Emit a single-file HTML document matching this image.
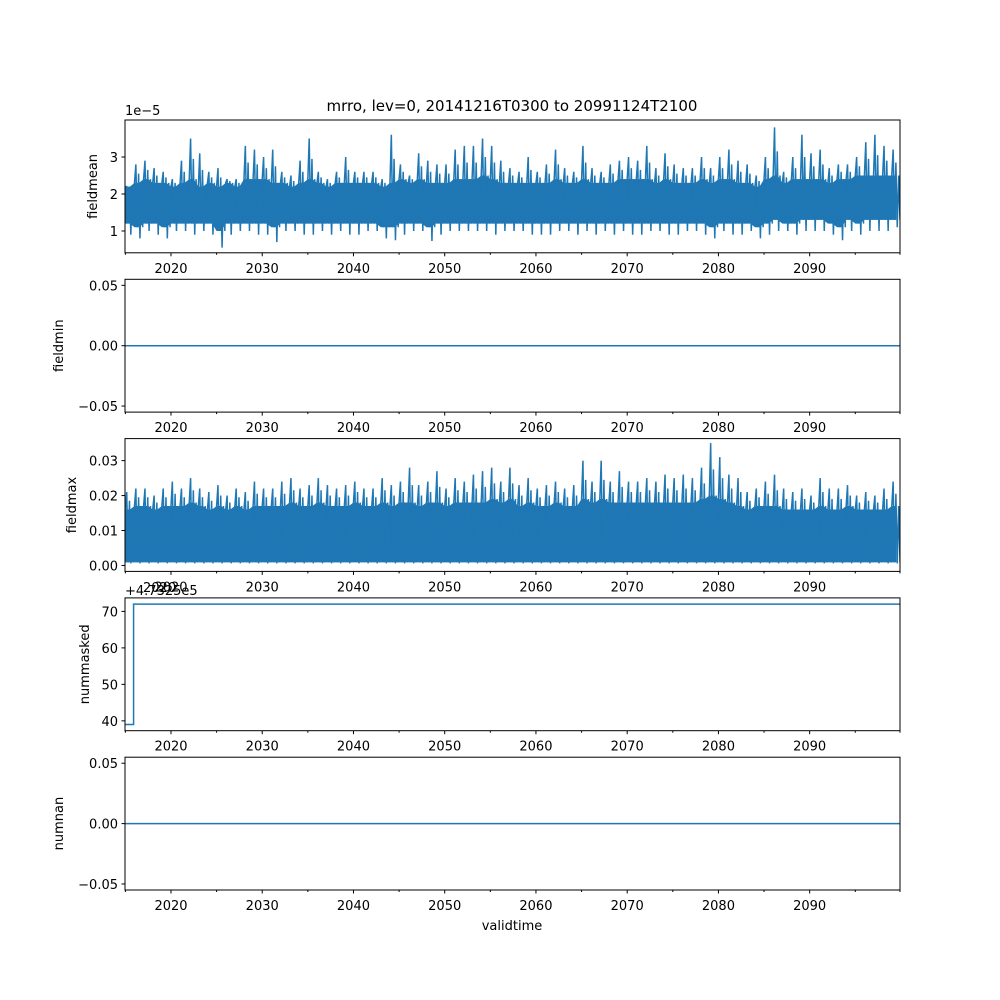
<!DOCTYPE html>
<html><head><meta charset="utf-8">
<style>
body{margin:0;background:#fff;}
svg{display:block;font-family:"DejaVu Sans","Liberation Sans",sans-serif;}
</style></head>
<body>
<svg id="fig" width="1000" height="1000" viewBox="0 0 1000 1000"></svg>
<script>
const years=[];for(let y=2015;y<=2099;y++)years.push(y);
const xTicks=[2020,2030,2040,2050,2060,2070,2080,2090];
const meanHi=[2.2,2.8,2.9,2.7,2.6,2.4,2.9,3.5,3.1,2.6,2.7,2.4,2.4,3.3,3.2,3.0,3.2,2.6,2.5,2.9,3.5,2.6,2.4,2.6,3.0,2.6,2.6,2.6,2.4,3.6,2.8,2.5,3.1,2.9,2.8,2.8,3.2,3.3,3.3,3.5,3.3,2.9,2.7,2.6,3.0,2.6,2.8,3.2,2.7,2.6,3.3,2.7,2.6,2.8,2.9,3.0,2.9,3.3,2.7,3.1,2.8,2.7,2.7,3.0,2.7,3.0,3.2,2.9,2.8,2.5,3.0,3.8,2.6,3.0,3.6,3.1,3.2,2.7,2.8,2.8,3.0,3.4,3.6,3.3,3.2];
const meanLo=[0.9,0.8,1.0,0.9,0.8,1.0,1.0,0.9,1.0,0.9,0.55,0.9,1.0,1.0,0.9,0.9,0.7,1.0,1.0,0.9,0.9,1.0,0.9,1.0,0.9,0.9,1.0,1.0,0.8,0.75,0.9,1.0,1.0,0.73,0.9,1.0,1.0,1.0,1.0,1.0,0.9,1.0,1.0,1.0,0.9,0.9,0.9,1.0,1.0,0.9,1.0,0.9,1.0,0.9,1.0,0.9,0.9,1.0,1.0,0.9,0.9,1.0,1.0,0.9,0.8,1.0,0.9,0.9,1.0,0.8,0.9,1.0,1.0,0.9,1.0,1.0,1.0,0.9,0.75,1.0,0.9,1.0,1.0,1.0,1.1];
const meanCoreHi=[2.2,2.3,2.4,2.3,2.3,2.2,2.3,2.4,2.2,2.3,2.2,2.3,2.2,2.4,2.4,2.4,2.3,2.3,2.2,2.3,2.4,2.3,2.2,2.3,2.3,2.3,2.3,2.3,2.2,2.3,2.4,2.3,2.4,2.3,2.3,2.3,2.4,2.4,2.4,2.5,2.4,2.3,2.3,2.3,2.3,2.3,2.3,2.4,2.3,2.3,2.4,2.3,2.3,2.3,2.4,2.4,2.4,2.4,2.3,2.4,2.3,2.3,2.3,2.4,2.3,2.4,2.4,2.3,2.3,2.2,2.4,2.5,2.3,2.4,2.4,2.4,2.4,2.3,2.4,2.4,2.5,2.5,2.5,2.5,2.5];
const meanCoreLo=[1.2,1.1,1.2,1.2,1.1,1.2,1.2,1.2,1.2,1.2,1.0,1.2,1.2,1.2,1.2,1.2,1.1,1.2,1.2,1.2,1.2,1.2,1.2,1.2,1.2,1.2,1.2,1.2,1.1,1.1,1.2,1.2,1.2,1.1,1.2,1.2,1.2,1.2,1.2,1.2,1.2,1.2,1.2,1.2,1.2,1.2,1.2,1.2,1.2,1.2,1.2,1.2,1.2,1.2,1.2,1.2,1.2,1.2,1.2,1.2,1.2,1.2,1.2,1.2,1.1,1.2,1.2,1.2,1.2,1.1,1.2,1.3,1.2,1.2,1.3,1.3,1.3,1.2,1.1,1.3,1.2,1.3,1.3,1.3,1.3];
const maxHi=[0.021,0.022,0.022,0.020,0.022,0.024,0.022,0.025,0.022,0.021,0.023,0.020,0.022,0.021,0.024,0.022,0.022,0.024,0.025,0.022,0.023,0.025,0.023,0.022,0.023,0.024,0.022,0.022,0.025,0.023,0.024,0.028,0.023,0.024,0.027,0.022,0.025,0.024,0.026,0.027,0.028,0.024,0.028,0.023,0.025,0.022,0.023,0.024,0.022,0.023,0.030,0.024,0.030,0.024,0.027,0.024,0.024,0.025,0.024,0.026,0.025,0.026,0.025,0.028,0.035,0.031,0.026,0.025,0.021,0.022,0.024,0.026,0.022,0.021,0.022,0.020,0.025,0.022,0.022,0.023,0.020,0.021,0.020,0.022,0.024];
const maxCoreHi=[0.016,0.017,0.017,0.016,0.017,0.017,0.017,0.018,0.017,0.016,0.017,0.016,0.017,0.016,0.017,0.017,0.017,0.017,0.018,0.017,0.017,0.018,0.017,0.017,0.017,0.018,0.017,0.017,0.018,0.017,0.018,0.018,0.017,0.018,0.018,0.017,0.018,0.018,0.018,0.018,0.019,0.018,0.019,0.017,0.018,0.017,0.017,0.018,0.017,0.017,0.019,0.018,0.019,0.018,0.018,0.018,0.018,0.018,0.018,0.018,0.018,0.018,0.018,0.019,0.020,0.019,0.018,0.017,0.016,0.017,0.017,0.017,0.016,0.016,0.016,0.016,0.017,0.016,0.016,0.017,0.016,0.016,0.016,0.016,0.017];
const maxLo=0.0006;
const maskedYears=[2014.96,2015.9,2015.9,2099.9];
const maskedVals=[39,39,72,72];
const zeroYears=[2014.96,2099.9];
const zeroVals=[0,0];

const NS="http://www.w3.org/2000/svg";
const svg=document.getElementById('fig');
const L=125,R=900,X0=2014.96,X1=2099.9;
function xs(y){return L+(y-X0)/(X1-X0)*(R-L);}
function mk(tag,attrs,parent){const e=document.createElementNS(NS,tag);for(const k in attrs)e.setAttribute(k,attrs[k]);(parent||svg).appendChild(e);return e;}
const BLUE="#1f77b4";

const title=mk('text',{x:512,y:111,'text-anchor':'middle','font-size':15});
title.textContent="mrro, lev=0, 20141216T0300 to 20991124T2100";



const panels=[
 {name:'fieldmean',top:120,ymin:0.41,ymax:4.0,ticks:[1,2,3],labels:['1','2','3'],lx:97},
 {name:'fieldmin',top:279.3,ymin:-0.055,ymax:0.055,ticks:[-0.05,0,0.05],labels:['−0.05','0.00','0.05'],lx:63},
 {name:'fieldmax',top:438.6,ymin:-0.0017,ymax:0.0363,ticks:[0,0.01,0.02,0.03],labels:['0.00','0.01','0.02','0.03'],lx:76},
 {name:'nummasked',top:597.9,ymin:37.3,ymax:73.7,ticks:[40,50,60,70],labels:['40','50','60','70'],lx:89},
 {name:'numnan',top:757.2,ymin:-0.055,ymax:0.055,ticks:[-0.05,0,0.05],labels:['−0.05','0.00','0.05'],lx:63}
];
const H=132.8;
panels.forEach((p,i)=>{
 const g=mk('g',{});
 
 
 const bot=p.top+H;
 const ys=v=>bot-(v-p.ymin)/(p.ymax-p.ymin)*H;
 const clipId='c'+i;
 const cp=mk('clipPath',{id:clipId},g);mk('rect',{x:L,y:p.top,width:R-L,height:H},cp);
 const data=mk('g',{'clip-path':'url(#'+clipId+')'},g);
 
 
 if(i===0||i===2){
  const hi=i===0?meanHi:maxHi, ch=i===0?meanCoreHi:maxCoreHi;
  const lo=i===0?meanLo:years.map(()=>maxLo);
  const cl=i===0?meanCoreLo:years.map(()=>maxLo+0.0003);
  let top=[],bt=[];
  years.forEach((y,k)=>{top.push(xs(y)+','+ys(ch[k]));top.push(xs(y+0.5)+','+ys(ch[k]));});
  years.slice().reverse().forEach((y,kk)=>{const k=years.length-1-kk;bt.push(xs(y+0.5)+','+ys(cl[k]));bt.push(xs(y)+','+ys(cl[k]));});
  const band=mk('polygon',{points:top.concat(bt).join(' '),fill:BLUE},data);
  
  
  let pts=[];
  years.forEach((y,k)=>{
   pts.push(xs(y)+','+ys(ch[k]));pts.push(xs(y+0.15)+','+ys(hi[k]));pts.push(xs(y+0.3)+','+ys(cl[k]));
   pts.push(xs(y+0.45)+','+ys((hi[k]+ch[k])/2));pts.push(xs(y+0.6)+','+ys(lo[k]));pts.push(xs(y+0.75)+','+ys(ch[k]));pts.push(xs(y+0.9)+','+ys(cl[k]));
  });
  const ln=mk('polyline',{points:pts.join(' '),fill:'none',stroke:BLUE,'stroke-width':1.5},data);
  
  
 } else {
  const xv=i===3?maskedYears:zeroYears, yv=i===3?maskedVals:zeroVals;
  const ln=mk('polyline',{points:xv.map((x,k)=>xs(x)+','+ys(yv[k])).join(' '),fill:'none',stroke:BLUE,'stroke-width':1.5},data);
  
  
 }
 mk('rect',{x:L,y:p.top,width:R-L,height:H,fill:'none',stroke:'#000','stroke-width':1},g);
 p.ticks.forEach((t,k)=>{
  const y=ys(t);
  mk('line',{x1:L-3.5,x2:L,y1:y,y2:y,stroke:'#000'},g);
  const tx=mk('text',{x:L-7,y:y+5,'text-anchor':'end','font-size':13},g);
  tx.textContent=p.labels[k];
  
  
 });
 for(let yr=2015;yr<=2095;yr+=5){
  const major=yr%10===0;
  mk('line',{x1:xs(yr),x2:xs(yr),y1:bot,y2:bot+(major?3.5:2),stroke:'#000'},g);
 }
 mk('line',{x1:R,x2:R,y1:bot,y2:bot+2,stroke:'#000'},g);
 xTicks.forEach(t=>{
  const tx=mk('text',{x:xs(t),y:bot+20,'text-anchor':'middle','font-size':13},g);
  tx.textContent=t;
  
  
 });
 const yl=mk('text',{x:p.lx,y:p.top+H/2,'text-anchor':'middle','font-size':13,transform:'rotate(-90 '+p.lx+' '+(p.top+H/2)+')'},g);
 yl.textContent=p.name;
 
 
});
const off1=mk('text',{x:125,y:115,'font-size':13});off1.textContent="1e−5";


const off2=mk('text',{x:125,y:595,'font-size':13});off2.textContent="+4.7325e5";


const off3=mk('text',{x:143,y:592,'font-size':13});off3.textContent="2020";


const xl=mk('text',{x:512,y:930,'text-anchor':'middle','font-size':13});xl.textContent="validtime";


</script>
</body></html>
